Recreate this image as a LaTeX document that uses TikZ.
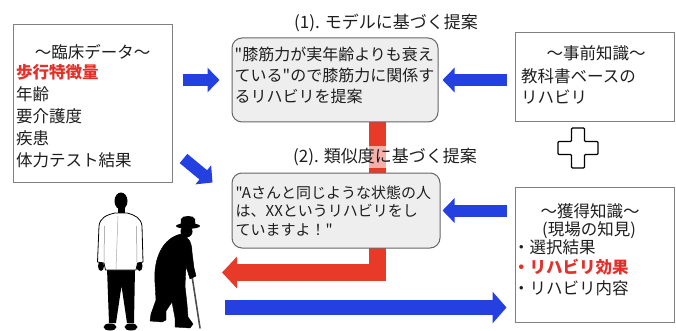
\documentclass[tikz,border=0pt]{standalone}
\usepackage{fontspec}
\newfontfamily\jp{Noto Sans CJK JP}
\usetikzlibrary{arrows.meta,calc}
\pgfdeclarelayer{bg}
\pgfsetlayers{bg,main}
\definecolor{arrowblue}{RGB}{36,64,225}
\definecolor{arrowred}{RGB}{232,58,40}
\definecolor{textred}{RGB}{226,48,42}
\definecolor{boxgray}{RGB}{128,128,128}
\definecolor{bubblefill}{RGB}{238,238,238}
\definecolor{inkgray}{RGB}{30,30,30}

\begin{document}
\begin{tikzpicture}[x=1pt, y=-1pt,
  every node/.style={inner sep=0pt, text=inkgray},
  databox/.style={draw=boxgray, line width=1pt, fill=white, rectangle},
  bubble/.style={draw=boxgray!80!black, line width=1pt, fill=bubblefill, rounded corners=10pt},
  heading/.style={font=\jp\fontsize{16.5}{20}\selectfont},
  caption/.style={font=\jp\fontsize{17}{20}\selectfont},
  listtext/.style={anchor=north west, align=left},
  bluearrow/.style={draw=arrowblue, line width=12pt, -{Triangle[length=12pt,width=24pt]}},
  bigblue/.style={draw=arrowblue, line width=15pt, -{Triangle[length=14pt,width=31pt]}},
  redarrow/.style={draw=arrowred, line width=17pt, line join=miter, -{Triangle[length=15pt,width=31pt]}},
  silhouette/.style={fill=black, draw=black, line width=0.4pt, line join=round}
]
\useasboundingbox (0,0) rectangle (676,331);

% ---------- clinical data box ----------
\node[databox, minimum width=159pt, minimum height=157pt] (clin) at (92.5,103.5) {};
\node[heading] (clinT) at (92.5,52) {〜臨床データ〜};
\node[listtext, font=\jp\fontsize{16.5}{22}\selectfont] (clinB) at (16,63.8)
  {{\color{textred}\bfseries 歩行特徴量}\\年齢\\要介護度\\疾患\\体力テスト結果};

% ---------- proposal bubbles ----------
\node[caption] (modelH) at (386,23) {(1). モデルに基づく提案};
\node[bubble, minimum width=206pt, minimum height=84pt] (model) at (335,80) {};
\node[listtext, font=\jp\fontsize{16}{21}\selectfont] (modelB) at (234.5,47)
  {"膝筋力が実年齢よりも衰え\\ている"ので膝筋力に関係す\\るリハビリを提案};

\node[bubble, minimum width=208pt, minimum height=75pt] (simil) at (336,210.5) {};
\node[listtext, font=\jp\fontsize{15}{18.5}\selectfont] (similB) at (235.5,185.5)
  {"Aさんと同じような状態の人\\は、XXというリハビリをし\\ていますよ！"};
\node[caption, fill=white, fill opacity=0.6, text opacity=1, inner sep=2pt] (similH) at (385,157)
  {(2). 類似度に基づく提案};

% ---------- knowledge boxes ----------
\node[databox, minimum width=159.5pt, minimum height=89pt] (prior) at (594.75,77.5) {};
\node[heading] (priorT) at (596,53) {〜事前知識〜};
\node[listtext, font=\jp\fontsize{16.5}{21}\selectfont] (priorB) at (521,68.8)
  {教科書ベースの\\リハビリ};

\node[databox, minimum width=159.5pt, minimum height=135pt] (acq) at (594.75,254.5) {};
\node[heading] (acqT) at (590,211) {〜獲得知識〜};
\node[heading] (acqS) at (589,230) {(現場の知見)};
\node[listtext, font=\jp\fontsize{16.5}{20.5}\selectfont] (acqB) at (513,239)
  {・選択結果\\{\color{textred}\bfseries ・リハビリ効果}\\・リハビリ内容};

% plus sign between the knowledge boxes
\draw[line width=1.1pt, fill=white, rounded corners=1pt]
  (571.5,128) -- (584.5,128) -- (584.5,141.5) -- (598,141.5) -- (598,154.5)
  -- (584.5,154.5) -- (584.5,168) -- (571.5,168) -- (571.5,154.5) -- (558,154.5)
  -- (558,141.5) -- (571.5,141.5) -- cycle;

% ---------- connectors ----------
\coordinate (rturn) at (377.5,272.5);
\coordinate (rend) at (222,272.5);
\begin{pgfonlayer}{bg}
  \draw[redarrow] (model.south -| rturn) -- (rturn) -- (rend);
\end{pgfonlayer}

\draw[bluearrow, shorten <=10pt, shorten >=12pt] (clin.east |- model.west) -- (model.west);
\draw[bluearrow, shorten <=8pt, shorten >=4pt] (prior.west |- model.east) -- (model.east);
\draw[bluearrow] ([shift={(11,-24)}]clin.south east) -- ([shift={(-19,10)}]simil.north west);
\draw[bluearrow, shorten <=8pt, shorten >=2pt] (acq.west |- simil.east) -- (simil.east);

\coordinate (bstart) at (225,307.5);
\draw[bigblue, shorten >=8pt] (bstart) -- (acq.west |- bstart);

% ---------- therapist (standing, white coat) ----------
\fill[black] (121,201) ellipse[x radius=6.5, y radius=8.5];
\fill[black] (117.5,206) rectangle (124.5,215);
% trousers
\fill[black] (107,268) -- (135,268) -- (134,323) -- (127,323) -- (121.5,286)
  -- (116,323) -- (109,323) -- cycle;
% shoes
\fill[black] (110,327) ellipse[x radius=6.5, y radius=3.5];
\fill[black] (131,327) ellipse[x radius=6.5, y radius=3.5];
% hands
\fill[black] (101,266) ellipse[x radius=3, y radius=5];
\fill[black] (139.5,266) ellipse[x radius=3, y radius=5];
% coat
\draw[fill=white, line width=0.8pt, line join=round]
  (115,213) .. controls (106,215) and (100,218) .. (99,226)
  -- (97.5,262) -- (104,263) -- (105.5,270) -- (136,270) -- (137.5,263)
  -- (143,262) -- (142,226) .. controls (141,218) and (135,215) .. (127,213) -- cycle;
\draw[black!45, line width=0.5pt] (104.5,226) -- (104,262);
\draw[black!45, line width=0.5pt] (136.5,226) -- (137,262);
\draw[black!35, line width=0.5pt] (118,216) -- (116,269);

% ---------- elderly man with cane ----------
\draw[black!70, line width=1.6pt, line cap=round] (192,276) -- (200,328);
% hat
\fill[black] (180.5,226) -- (181,219) .. controls (182,215) and (194,215) .. (195,219) -- (195.5,226) -- cycle;
\fill[black] (188,226) ellipse[x radius=12, y radius=2.8];
% head
\fill[black] (186.5,231.5) circle[radius=6];
% body and legs
\fill[silhouette]
  (181,234) .. controls (189,236) and (192,244) .. (192,252)
  -- (194,268) -- (196,276) -- (190,279) -- (186,266) -- (185,286)
  -- (187,304) -- (188,317) -- (193,324) -- (190,328) -- (175,327)
  -- (175,318) -- (172,302) -- (166,311) -- (166,320) -- (162,322) -- (150,321)
  -- (151,314) -- (156,300) -- (155,283)
  .. controls (153,258) and (163,238) .. (181,234) -- cycle;

\end{tikzpicture}
\end{document}
